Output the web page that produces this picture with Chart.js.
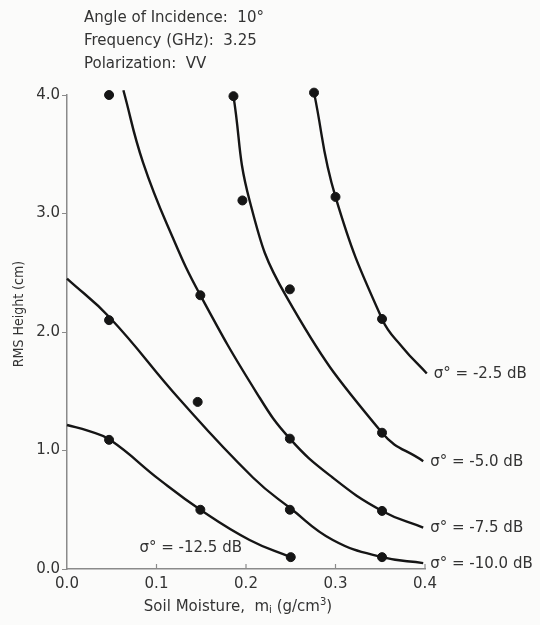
<!DOCTYPE html>
<html>
<head>
<meta charset="utf-8">
<script src="https://cdn.jsdelivr.net/npm/chart.js@4/dist/chart.umd.min.js"></script>
<style>
  html, body { margin: 0; padding: 0; background: #fbfbfa; }
  #wrap { width: 540px; height: 625px; position: relative; }
</style>
</head>
<body>
<div id="wrap"><canvas id="chart"></canvas></div>
<script>
// Measured points (soil moisture, rms height)
const dotX = [0.047, 0.047, 0.047, 0.146, 0.149, 0.149, 0.186, 0.196, 0.249, 0.249, 0.249, 0.250, 0.276, 0.300, 0.352, 0.352, 0.352, 0.352];
const dotY = [4.00, 2.10, 1.09, 1.41, 2.31, 0.50, 3.99, 3.11, 2.36, 1.10, 0.50, 0.10, 4.02, 3.14, 2.11, 1.15, 0.49, 0.10];

// Constant-backscatter contours
const curveLabels = ['σ° = -2.5 dB', 'σ° = -5.0 dB', 'σ° = -7.5 dB', 'σ° = -10.0 dB', 'σ° = -12.5 dB'];
const c25X = [0.276, 0.300, 0.352, 0.375, 0.402];
const c25Y = [4.02, 3.14, 2.11, 1.87, 1.65];
const c50X = [0.186, 0.204, 0.245, 0.352, 0.398];
const c50Y = [3.99, 3.11, 2.30, 1.15, 0.91];
const c75X = [0.063, 0.085, 0.118, 0.149, 0.212, 0.249, 0.297, 0.352, 0.398];
const c75Y = [4.04, 3.43, 2.80, 2.31, 1.485, 1.10, 0.77, 0.49, 0.35];
const c100X = [0.000, 0.048, 0.126, 0.208, 0.250, 0.297, 0.352, 0.398];
const c100Y = [2.45, 2.12, 1.43, 0.77, 0.51, 0.245, 0.10, 0.05];
const c125X = [0.000, 0.024, 0.048, 0.104, 0.149, 0.204, 0.250];
const c125Y = [1.215, 1.165, 1.09, 0.75, 0.50, 0.245, 0.10];

const xTicks = [0.0, 0.1, 0.2, 0.3, 0.4];
const yTicks = [0.0, 1.0, 2.0, 3.0, 4.0];

const headerLines = ['Angle of Incidence:  10°', 'Frequency (GHz):  3.25', 'Polarization:  VV'];

const FONT = '"DejaVu Sans", sans-serif';
const FONT_NARROW = '"DejaVu Sans Condensed", "Liberation Sans Narrow", sans-serif';
const INK = '#151515';
const TXT = '#333333';
const AXIS = '#8a8a8a';

const zip = (xs, ys) => xs.map((x, i) => ({ x: x, y: ys[i] }));

const curves = [
    zip(c25X, c25Y), zip(c50X, c50Y), zip(c75X, c75Y), zip(c100X, c100Y), zip(c125X, c125Y)
];

const curveSets = curves.map((pts, i) => ({
    label: curveLabels[i],
    data: pts,
    showLine: true,
    borderColor: INK,
    borderWidth: 2.4,
    pointRadius: 0,
    tension: 0.45,
    clip: false
}));

// text drawn around the plot: header, axis titles, contour labels, inner x ticks
const annotate = {
    id: 'annotate',
    afterDraw(chart) {
        const ctx = chart.ctx;
        const xs = chart.scales.x, ys = chart.scales.y;
        const area = chart.chartArea;
        ctx.save();

        // upward tick marks on x axis
        ctx.strokeStyle = AXIS;
        ctx.lineWidth = 1.2;
        xTicks.slice(1).forEach(v => {
            const px = xs.getPixelForValue(v);
            ctx.beginPath();
            ctx.moveTo(px, area.bottom);
            ctx.lineTo(px, area.bottom - 5);
            ctx.stroke();
        });

        ctx.fillStyle = TXT;
        ctx.font = '15px ' + FONT;
        ctx.textBaseline = 'middle';
        ctx.textAlign = 'left';
        headerLines.forEach((t, i) => ctx.fillText(t, 84, 18 + i * 23));

        // contour labels at curve ends
        ctx.font = '15px ' + FONT;
        for (let i = 0; i < 4; i++) {
            const last = curves[i][curves[i].length - 1];
            ctx.fillText(curveLabels[i], xs.getPixelForValue(last.x) + 7, ys.getPixelForValue(last.y) + 1);
        }
        ctx.fillText(curveLabels[4], xs.getPixelForValue(0.081), ys.getPixelForValue(0.18));

        // y title
        ctx.save();
        ctx.translate(19, 314);
        ctx.rotate(-Math.PI / 2);
        ctx.textAlign = 'center';
        ctx.font = '14px ' + FONT_NARROW;
        ctx.fillText('RMS Height (cm)', 0, 0);
        ctx.restore();

        // x title with sub/superscript
        const y0 = 607;
        const parts = [
            ['Soil Moisture,  m', 15, 0],
            ['i', 10, 3],
            [' (g/cm', 15, 0],
            ['3', 10, -5],
            [')', 15, 0]
        ];
        let w = 0;
        parts.forEach(p => { ctx.font = p[1] + 'px ' + FONT; w += ctx.measureText(p[0]).width; });
        let x = 238 - w / 2;
        parts.forEach(p => {
            ctx.font = p[1] + 'px ' + FONT;
            ctx.fillText(p[0], x, y0 + p[2]);
            x += ctx.measureText(p[0]).width;
        });

        ctx.restore();
    }
};

new Chart(document.getElementById('chart'), {
    type: 'scatter',
    data: {
        datasets: [
            {
                label: 'measured',
                data: zip(dotX, dotY),
                backgroundColor: INK,
                borderColor: INK,
                pointRadius: 4.5,
                clip: false
            },
            ...curveSets
        ]
    },
    options: {
        responsive: true,
        maintainAspectRatio: false,
        animation: false,
        layout: { padding: { left: 0, top: 95, right: 115, bottom: 0 } },
        plugins: {
            legend: { display: false },
            tooltip: { enabled: false }
        },
        scales: {
            x: {
                type: 'linear',
                min: 0,
                max: 0.4,
                afterBuildTicks: s => { s.ticks = xTicks.map(v => ({ value: v })); },
                afterFit: s => { s.height = 56; },
                ticks: {
                    color: TXT,
                    font: { family: FONT, size: 15 },
                    padding: 6,
                    callback: v => v.toFixed(1)
                },
                grid: { drawOnChartArea: false, drawTicks: false },
                border: { display: true, color: AXIS, width: 1.5 }
            },
            y: {
                type: 'linear',
                min: 0,
                max: 4,
                afterBuildTicks: s => { s.ticks = yTicks.map(v => ({ value: v })); },
                afterFit: s => { s.width = 67; },
                ticks: {
                    color: TXT,
                    font: { family: FONT, size: 15 },
                    padding: 2,
                    callback: v => v.toFixed(1)
                },
                grid: { drawOnChartArea: false, drawTicks: true, tickLength: 5, tickColor: AXIS },
                border: { display: true, color: AXIS, width: 1.5 }
            }
        }
    },
    plugins: [annotate]
});
</script>
</body>
</html>
